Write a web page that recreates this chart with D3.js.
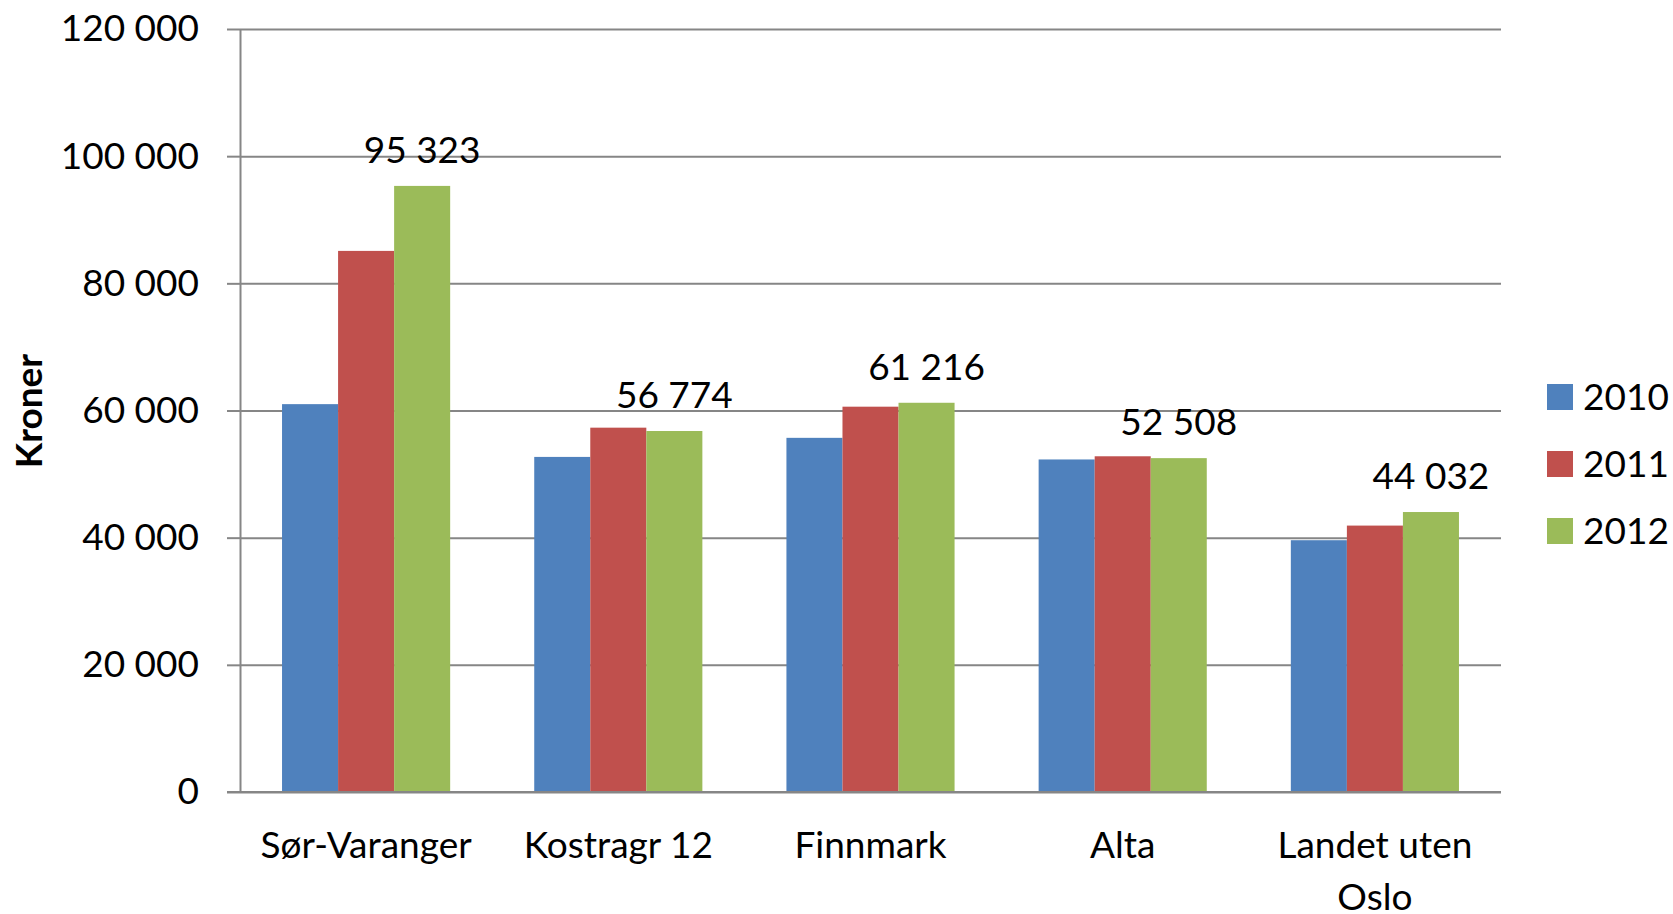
<!DOCTYPE html>
<html>
<head>
<meta charset="utf-8">
<script src="https://cdnjs.cloudflare.com/ajax/libs/d3/7.8.5/d3.min.js"></script>
<style>
  body { margin: 0; background: #fff; }
  svg { display: block; }
  text { font-family: Lato, "Open Sans", sans-serif; fill: #000; }
</style>
</head>
<body>
<svg></svg>
<script>
var WIDTH = 1673;
var HEIGHT = 914;

// data
var categories = ['Sør-Varanger', 'Kostragr 12', 'Finnmark', 'Alta', 'Landet uten Oslo'];
var years = ['2010', '2011', '2012'];
var v2010 = [61000, 52700, 55700, 52300, 39600];
var v2011 = [85100, 57300, 60600, 52800, 41900];
var v2012 = [95323, 56774, 61216, 52508, 44032];
var yTicks = [0, 20000, 40000, 60000, 80000, 100000, 120000];
var colors = ['#4F81BD', '#C0504D', '#9BBB59'];

var series = [v2010, v2011, v2012];

var svg = d3.select('svg')
  .attr('width', WIDTH)
  .attr('height', HEIGHT);

// plot box (note: "top" is taken by window.top)
var pLeft = 240, pRight = 1501, pTop = 29, pBottom = 792;

var nb = d3.formatLocale({decimal: ',', thousands: ' ', grouping: [3], currency: ['', '']}).format(',d');

var yScale = d3.scaleLinear().domain([0, 120000]).range([pBottom, pTop]);

var x0 = d3.scaleBand().domain(categories).range([pLeft, pRight])
  .paddingInner(1 / 3).paddingOuter(1 / 6);
var x1 = d3.scaleBand().domain(years).range([0, x0.bandwidth()]);

// gridlines
var grid = svg.append('g').attr('transform', 'translate(' + pLeft + ',0)')
  .call(d3.axisLeft(yScale).tickValues(yTicks).tickSize(-(pRight - pLeft)).tickFormat(''));
grid.select('.domain').remove();
grid.selectAll('line').attr('stroke', '#868686').attr('stroke-width', 2);

// bars
categories.forEach(function(c, i) {
  var g = svg.append('g').attr('transform', 'translate(' + x0(c) + ',0)');
  g.selectAll('rect').data(years).enter().append('rect')
    .attr('x', function(d) { return x1(d); })
    .attr('width', x1.bandwidth())
    .attr('y', function(d, j) { return yScale(series[j][i]); })
    .attr('height', function(d, j) { return pBottom - yScale(series[j][i]); })
    .attr('fill', function(d, j) { return colors[j]; });
});

// value labels on 2012
svg.append('g').selectAll('text').data(categories).enter().append('text')
  .attr('x', function(d) { return x0(d) + x1('2012') + x1.bandwidth() / 2; })
  .attr('y', function(d, i) { return yScale(v2012[i]) - 23; })
  .attr('text-anchor', 'middle')
  .style('font-size', '37px')
  .text(function(d, i) { return nb(v2012[i]); });

// y axis
var yAxis = svg.append('g').attr('transform', 'translate(' + pLeft + ',0)')
  .call(d3.axisLeft(yScale).tickValues(yTicks).tickSizeInner(13).tickSizeOuter(0).tickPadding(28).tickFormat(nb));
yAxis.select('.domain').attr('stroke', '#868686').attr('stroke-width', 2);
yAxis.selectAll('line').attr('stroke', '#868686').attr('stroke-width', 2);
yAxis.selectAll('text').style('font-size', '37px').style('font-family', 'Lato, sans-serif').attr('fill', '#000');

// x axis
var xAxis = svg.append('g').attr('transform', 'translate(0,' + pBottom + ')')
  .call(d3.axisBottom(x0).tickSize(0).tickPadding(0).tickFormat(''));
xAxis.select('.domain').attr('stroke', '#868686').attr('stroke-width', 2)
  .attr('d', 'M' + (pLeft - 13) + ',0H' + pRight);

// category labels with wrapping
svg.append('g').selectAll('text').data(categories).enter().append('text')
  .attr('x', function(d) { return x0(d) + x0.bandwidth() / 2; })
  .attr('y', 858)
  .attr('text-anchor', 'middle')
  .style('font-size', '37px')
  .each(function(d) {
    var t = d3.select(this);
    var lines = d.length > 14 ? ['Landet uten', 'Oslo'] : [d];
    lines.forEach(function(l, k) {
      t.append('tspan').attr('x', t.attr('x')).attr('dy', k === 0 ? 0 : 52).text(l);
    });
  });

// axis title
svg.append('text')
  .attr('transform', 'translate(42,411) rotate(-90)')
  .attr('text-anchor', 'middle')
  .style('font-size', '37px')
  .style('font-weight', 'bold')
  .text('Kroner');

// legend
var legend = svg.append('g').selectAll('g').data(years).enter().append('g')
  .attr('transform', function(d, i) { return 'translate(1547,' + (397 + i * 67) + ')'; });
legend.append('rect')
  .attr('x', 0).attr('y', -13).attr('width', 26).attr('height', 26)
  .attr('fill', function(d, i) { return colors[i]; });
legend.append('text')
  .attr('x', 36).attr('y', 0).attr('dy', '0.35em')
  .style('font-size', '37px')
  .text(function(d) { return d; });
</script>
</body>
</html>
